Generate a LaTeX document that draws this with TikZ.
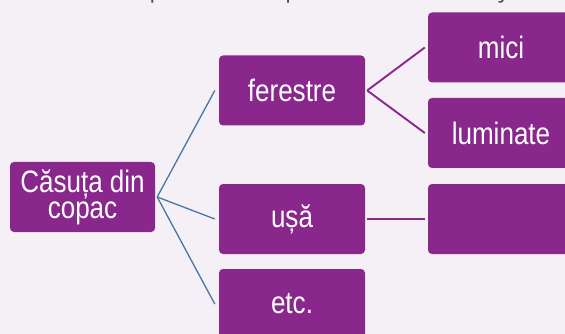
\documentclass[tikz,border=0pt]{standalone}
\usepackage{fontspec}
\setmainfont{Liberation Sans}[FakeStretch=0.84]
\newfontfamily\topfont{Open Sans}
\usepackage{xcolor}
\usepackage{tikz}
\usetikzlibrary{positioning}
\definecolor{boxpurple}{RGB}{138, 39, 141}
\definecolor{bgpaper}{RGB}{244, 240, 246}
\definecolor{linkblue}{RGB}{72, 118, 166}
\definecolor{textgray}{RGB}{80, 80, 80}

\begin{document}
\begin{tikzpicture}[
    x=1pt, y=-1pt,
    item/.style={rectangle, rounded corners=4pt, fill=boxpurple, text=white, minimum width=146pt, minimum height=70pt, align=center, inner sep=0pt, font=\fontsize{31}{26}\selectfont},
    bluelink/.style={draw=linkblue, line width=1.3pt},
    purplelink/.style={draw=boxpurple, line width=1.9pt}
]
\useasboundingbox (0,0) rectangle (565,334);
\fill[bgpaper] (0,0) rectangle (565,334);
\clip (0,0) rectangle (565,334);

% Cut-off instruction line
\node[anchor=base east, inner sep=0pt, text=textgray, font=\topfont\fontsize{24}{28}\selectfont] (hint) at (532,-2) {elementele componente, după modelul de mai jos};

% Root
\node[item, minimum width=145pt] (root) at (82.5,197) {Căsuța din\\copac};

% Second level
\node[item] (ferestre) at (292,90.5) {ferestre};
\node[item] (usa) at (292,219) {ușă};
\node[item] (etc) at (292,304) {etc.};

% Third level
\node[item] (mici) at (501,47.5) {mici};
\node[item] (luminate) at (501,133) {luminate};
\node[item] (blank) at (501,219) {};

% Links from root
\draw[bluelink] ([xshift=2pt]root.east) -- ([xshift=-4pt]ferestre.west);
\draw[bluelink] ([xshift=2pt]root.east) -- ([xshift=-4pt]usa.west);
\draw[bluelink] ([xshift=2pt]root.east) -- ([xshift=-4pt]etc.west);

% Links to third level
\draw[purplelink] ([xshift=2pt]ferestre.east) -- ([xshift=-3pt]mici.west);
\draw[purplelink] ([xshift=2pt]ferestre.east) -- ([xshift=-3pt]luminate.west);
\draw[purplelink] ([xshift=2pt]usa.east) -- ([xshift=-3pt]blank.west);
\end{tikzpicture}
\end{document}
